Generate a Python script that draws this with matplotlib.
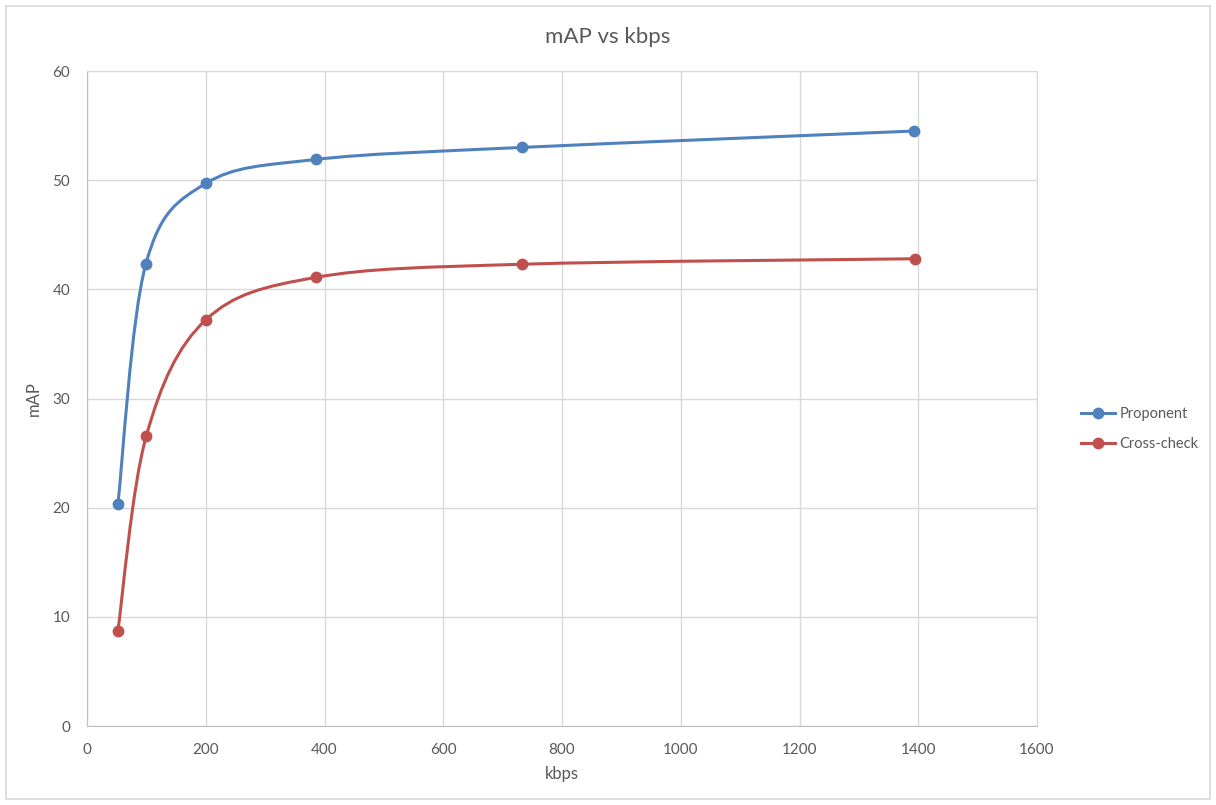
import matplotlib
matplotlib.use('Agg')
import matplotlib.pyplot as plt
import numpy as np
from matplotlib.path import Path
from matplotlib.patches import PathPatch, Rectangle
from matplotlib.lines import Line2D

# values
kbps_prop = [52, 99, 200, 386, 733, 1393]
map_prop = [20.3, 42.3, 49.7, 51.9, 53.0, 54.5]
kbps_cross = [52, 100, 200, 386, 733, 1394]
map_cross = [8.7, 26.6, 37.2, 41.1, 42.3, 42.8]
series_names = ['Proponent', 'Cross-check']
series_colors = ['#4f81bd', '#c0504d']

plt.rcParams['font.family'] = ['Lato', 'DejaVu Sans']

def smooth_path(xs, ys):
    # Excel-like smoothed line: cubic bezier through the points (Catmull-Rom tangents)
    pts = np.column_stack([xs, ys]).astype(float)
    n = len(pts)
    verts = [pts[0]]
    codes = [Path.MOVETO]
    for i in range(n - 1):
        p0 = pts[i - 1] if i > 0 else pts[i]
        p1 = pts[i]
        p2 = pts[i + 1]
        p3 = pts[i + 2] if i + 2 < n else pts[i + 1]
        c1 = p1 + (p2 - p0) / 6.0
        c2 = p2 - (p3 - p1) / 6.0
        verts += [c1, c2, p2]
        codes += [Path.CURVE4] * 3
    return Path(verts, codes)

fig = plt.figure(figsize=(12.16, 8.05), dpi=100)
ax = fig.add_axes([87 / 1216, 1 - 726 / 805, 950 / 1216, 655 / 805])

for xs, ys, name, col in zip([kbps_prop, kbps_cross], [map_prop, map_cross],
                             series_names, series_colors):
    patch = PathPatch(smooth_path(xs, ys), facecolor='none', edgecolor=col,
                      linewidth=2.2, zorder=3)
    ax.add_patch(patch)
    ax.plot(xs, ys, 'o', color=col, markersize=7.5, zorder=4)

ax.set_xlim(0, 1600)
ax.set_ylim(0, 60)
ax.set_xticks(np.arange(0, 1601, 200))
ax.set_yticks(np.arange(0, 61, 10))
ax.grid(True, color='#d9d9d9', linewidth=1)
ax.set_axisbelow(True)
ax.tick_params(length=0, labelsize=11, labelcolor='#595959', pad=12)
for side in ['top', 'right']:
    ax.spines[side].set_color('#d9d9d9')
for side in ['left', 'bottom']:
    ax.spines[side].set_color('#bfbfbf')

# title is centred on the whole chart, not the plot area
fig.text(608 / 1216, 1 - 37 / 805, 'mAP vs kbps', fontsize=16, color='#595959',
         ha='center', va='center')
ax.set_xlabel('kbps', fontsize=12, color='#595959', labelpad=7)
ax.set_ylabel('mAP', fontsize=12, color='#595959')
ax.yaxis.set_label_coords((42 - 87) / 950, 0.5)

handles = [Line2D([0], [0], color=c, linewidth=2.2, marker='o', markersize=7.5)
           for c in series_colors]
fig.legend(handles, series_names, loc='center left',
           bbox_to_anchor=(1074 / 1216, 1 - 429 / 805), frameon=False,
           fontsize=10.5, labelcolor='#595959', handlelength=2.3,
           labelspacing=1.15, borderpad=0, handletextpad=0.3)

fig.patches.append(Rectangle((6 / 1216, 6 / 805), 1204 / 1216, 793 / 805,
                             transform=fig.transFigure, fill=False,
                             edgecolor='#d9d9d9', linewidth=1.2))

fig.savefig('out.png', dpi=100)
